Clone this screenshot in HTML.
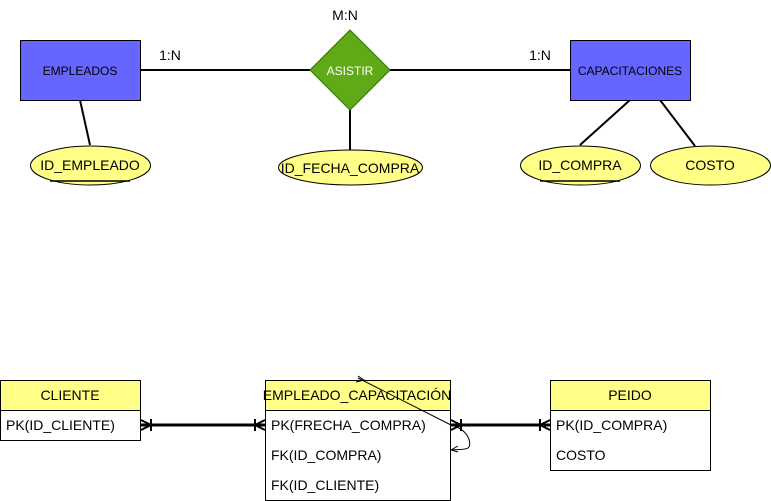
<!DOCTYPE html>
<html><head><meta charset="utf-8"><style>
html,body{margin:0;padding:0;background:#fff;width:771px;height:501px;overflow:hidden}
text{font-family:"Liberation Sans",sans-serif}
</style></head><body>
<svg width="771" height="501" viewBox="0 0 771 501" xmlns="http://www.w3.org/2000/svg">
<g stroke="#000" stroke-width="2" fill="none">
<line x1="140" y1="70" x2="310" y2="70"/>
<line x1="390" y1="70" x2="570" y2="70"/>
<line x1="80" y1="100" x2="90" y2="145"/>
<line x1="350" y1="110" x2="350" y2="150"/>
<line x1="630" y1="100" x2="580" y2="145"/>
<line x1="660" y1="100" x2="695" y2="146"/>
</g>
<rect x="20.5" y="40.5" width="120" height="60" fill="#6666ff" stroke="#000"/>
<text x="80" y="75" font-size="12" text-anchor="middle">EMPLEADOS</text>
<rect x="570.5" y="40.5" width="120" height="60" fill="#6666ff" stroke="#000"/>
<text x="630" y="75" font-size="12" text-anchor="middle">CAPACITACIONES</text>
<polygon points="350,30 390,70 350,110 310,70" fill="#60a917" stroke="#2d7600"/>
<text x="350" y="75" font-size="12" fill="#fff" text-anchor="middle">ASISTIR</text>
<text x="345" y="20" font-size="14" text-anchor="middle">M:N</text>
<text x="170" y="60" font-size="14" text-anchor="middle">1:N</text>
<text x="540" y="60" font-size="14" text-anchor="middle">1:N</text>
<g fill="#ffff88" stroke="#000">
<ellipse cx="90.5" cy="165.5" rx="60" ry="19.5"/>
<ellipse cx="350.5" cy="167.5" rx="72" ry="17.5"/>
<ellipse cx="580.5" cy="165.5" rx="60" ry="19.5"/>
<ellipse cx="710.5" cy="165.5" rx="60" ry="19.5"/>
</g>
<g stroke="#000" stroke-width="1.5">
<line x1="50" y1="181" x2="130" y2="181"/>
<line x1="540" y1="181" x2="620" y2="181"/>
</g>
<g font-size="14" text-anchor="middle">
<text x="90" y="170">ID_EMPLEADO</text>
<text x="350" y="173">ID_FECHA_COMPRA</text>
<text x="580" y="170">ID_COMPRA</text>
<text x="710" y="170">COSTO</text>
</g>
<!-- tables -->
<g stroke="#000" fill="#fff">
<rect x="0.5" y="380.5" width="140" height="60"/>
<rect x="0.5" y="380.5" width="140" height="30" fill="#ffff88"/>
<rect x="265.5" y="380.5" width="185" height="120"/>
<rect x="265.5" y="380.5" width="185" height="30" fill="#ffff88"/>
<rect x="550.5" y="380.5" width="160" height="90"/>
<rect x="550.5" y="380.5" width="160" height="30" fill="#ffff88"/>
</g>
<g font-size="14">
<text x="70" y="400" text-anchor="middle">CLIENTE</text>
<text x="6" y="430">PK(ID_CLIENTE)</text>
<text x="357" y="400" text-anchor="middle">EMPLEADO_CAPACITACIÓN</text>
<text x="271" y="430">PK(FRECHA_COMPRA)</text>
<text x="271" y="460">FK(ID_COMPRA)</text>
<text x="271" y="490">FK(ID_CLIENTE)</text>
<text x="630" y="400" text-anchor="middle">PEIDO</text>
<text x="556" y="430">PK(ID_COMPRA)</text>
<text x="556" y="460">COSTO</text>
</g>
<g stroke="#000" stroke-width="3" fill="none">
<line x1="141" y1="425" x2="265" y2="425"/>
<line x1="451" y1="425" x2="550" y2="425"/>
</g>
<g stroke="#000" stroke-width="2" fill="none">
<path d="M141,420 L151,425 L141,430 M151,419 V431"/>
<path d="M265,420 L255,425 L265,430 M255,419 V431"/>
<path d="M451,420 L461,425 L451,430 M461,419 V431"/>
<path d="M550,420 L540,425 L550,430 M540,419 V431"/>
</g>
<g stroke="#000" stroke-width="1" fill="none">
<path d="M451,425 C470,430 472,445 468,448 C465,450 460,449 451,450"/>
<path d="M458,446 L451,450 L458,452"/>
<line x1="358" y1="378" x2="451" y2="425"/>
<path d="M356,382 L364,380 L358,376"/>
</g>
</svg>
</body></html>
